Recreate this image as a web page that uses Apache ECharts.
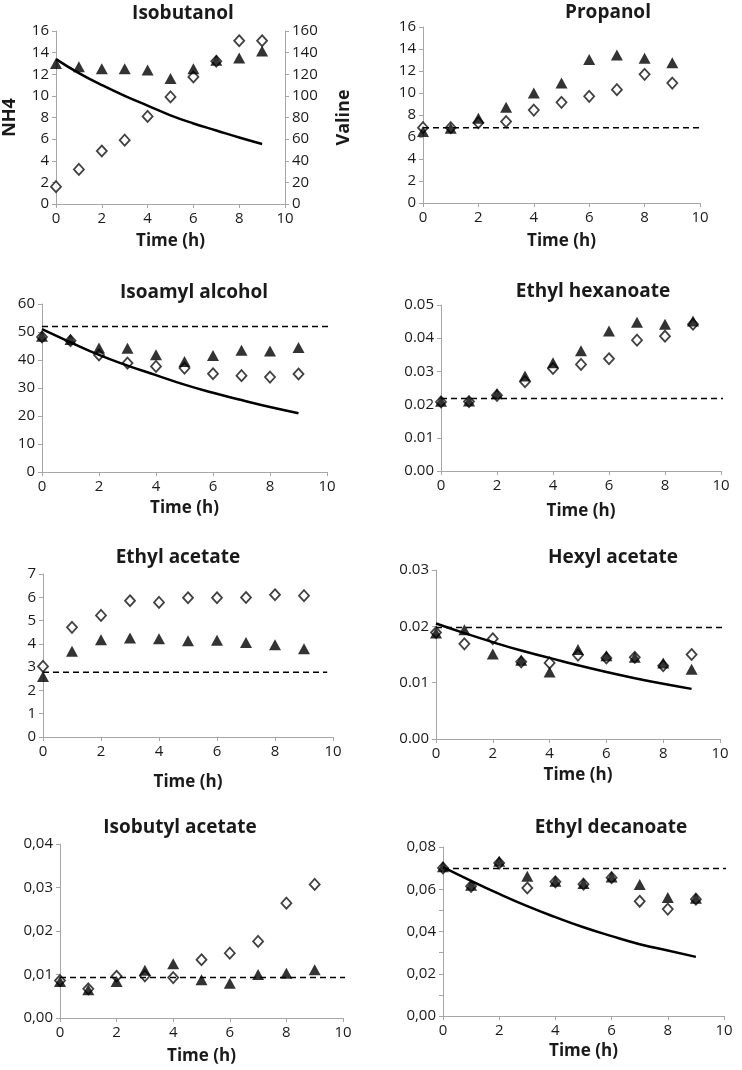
<!DOCTYPE html>
<html><head><meta charset="utf-8">
<script src="https://cdn.jsdelivr.net/npm/echarts@6/dist/echarts.min.js"></script>
<style>html,body{margin:0;padding:0;background:#fff}#c{width:742px;height:1070px}</style>
</head><body><div id="c"></div>
<script>
// ---------- data ----------
const hours = [0,1,2,3,4,5,6,7,8,9];
const xAxisName = 'Time (h)';
const panelTitles = ['Isobutanol','Propanol','Isoamyl alcohol','Ethyl hexanoate','Ethyl acetate','Hexyl acetate','Isobutyl acetate','Ethyl decanoate'];
const leftAxisName = 'NH4';
const rightAxisName = 'Valine';

const isobutanolTriangles = [13.0,12.7,12.5,12.5,12.4,11.6,12.5,13.3,13.5,14.15];
const isobutanolDiamonds  = [1.6,3.2,4.9,5.9,8.1,9.9,11.75,13.2,15.1,15.1];
const isobutanolModel     = [13.4,12.1,11.0,10.0,9.1,8.2,7.45,6.8,6.15,5.55];

const propanolTriangles = [6.5,6.8,7.7,8.7,10.0,10.9,13.05,13.45,13.15,12.75];
const propanolDiamonds  = [6.85,6.85,7.3,7.4,8.45,9.15,9.7,10.3,11.7,10.9];
const propanolBaseline  = 6.85;

const isoamylTriangles = [48.5,47.3,44.3,44.2,41.9,39.5,41.6,43.5,43.2,44.5];
const isoamylDiamonds  = [48.2,46.9,41.8,38.9,37.7,37.1,35.1,34.4,33.9,35.0];
const isoamylModel     = [51.0,46.3,41.8,38.0,34.6,31.2,28.3,25.7,23.2,21.0];
const isoamylBaseline  = 52.0;

const ethylHexTriangles = [0.0210,0.0211,0.0233,0.0286,0.0326,0.0362,0.0422,0.0448,0.0442,0.0452];
const ethylHexDiamonds  = [0.0208,0.0209,0.0228,0.0269,0.0309,0.0321,0.0338,0.0394,0.0406,0.0442];
const ethylHexBaseline  = 0.0218;

const ethylAcTriangles = [2.60,3.68,4.18,4.25,4.22,4.13,4.16,4.06,3.96,3.79];
const ethylAcDiamonds  = [3.03,4.71,5.22,5.85,5.78,5.98,5.98,5.99,6.11,6.07];
const ethylAcBaseline  = 2.78;

const hexylTriangles = [0.0188,0.0194,0.0151,0.0140,0.0119,0.0159,0.0148,0.0145,0.0135,0.0124];
const hexylDiamonds  = [0.0189,0.0169,0.0178,0.0137,0.0135,0.0149,0.0144,0.0145,0.0130,0.0150];
const hexylModel     = [0.0205,0.0188,0.0172,0.0157,0.0144,0.0131,0.0119,0.0108,0.0098,0.0089];
const hexylBaseline  = 0.0198;

const isobutylTriangles = [0.0084,0.0065,0.0084,0.0110,0.0125,0.0088,0.0080,0.0100,0.0103,0.0111];
const isobutylDiamonds  = [0.0086,0.0067,0.0096,0.0097,0.0093,0.0134,0.0149,0.0176,0.0264,0.0307];
const isobutylBaseline  = 0.0093;

const ethylDecTriangles = [0.0706,0.0619,0.0732,0.0661,0.0638,0.0627,0.0658,0.0622,0.0561,0.0557];
const ethylDecDiamonds  = [0.0701,0.0614,0.0724,0.0606,0.0635,0.0624,0.0655,0.0543,0.0506,0.0553];
const ethylDecModel     = [0.0705,0.0640,0.0578,0.0520,0.0468,0.0420,0.0378,0.0340,0.0310,0.0280];
const ethylDecBaseline  = 0.0698;

// ---------- layout / style ----------
const FONT = 'Open Sans';
const TXT = '#1a1a1a';
const AX = '#a6a6a6';

const panels = [
  {grid:[54,31,231,173],   title:[178,-1],  yMax:16,   yInt:2,    fmt:'int', tri:isobutanolTriangles, dia:isobutanolDiamonds, model:isobutanolModel, base:null, dashEnd:null, nameGap:29},
  {grid:[423,27,277,176],  title:[603,-2],  yMax:16,   yInt:2,    fmt:'int', tri:propanolTriangles, dia:propanolDiamonds, model:null, base:propanolBaseline, dashEnd:10.3, nameGap:30},
  {grid:[42,304,285,168],  title:[189,278], yMax:60,   yInt:10,   fmt:'int', tri:isoamylTriangles, dia:isoamylDiamonds, model:isoamylModel, base:isoamylBaseline, dashEnd:10.5, nameGap:28},
  {grid:[441,305,280,166], title:[588,277], yMax:0.05, yInt:0.01, fmt:'dot', tri:ethylHexTriangles, dia:ethylHexDiamonds, model:null, base:ethylHexBaseline, dashEnd:10.8, nameGap:32},
  {grid:[43,574,290,163],  title:[173,543], yMax:7,    yInt:1,    fmt:'int', tri:ethylAcTriangles, dia:ethylAcDiamonds, model:null, base:ethylAcBaseline, dashEnd:9.8, nameGap:37},
  {grid:[436,570,284,169], title:[608,543], yMax:0.03, yInt:0.01, fmt:'dot', tri:hexylTriangles, dia:hexylDiamonds, model:hexylModel, base:hexylBaseline, dashEnd:10.8, nameGap:28},
  {grid:[60,844,283,174],  title:[175,813], yMax:0.04, yInt:0.01, fmt:'comma', tri:isobutylTriangles, dia:isobutylDiamonds, model:null, base:isobutylBaseline, dashEnd:10.6, nameGap:30},
  {grid:[443,847,281,169], title:[606,813], yMax:0.08, yInt:0.02, fmt:'comma', tri:ethylDecTriangles, dia:ethylDecDiamonds, model:ethylDecModel, base:ethylDecBaseline, dashEnd:10.6, nameGap:27, minor:true}
];

function fmtFn(kind){
  if (kind === 'int') return v => String(Math.round(v));
  if (kind === 'dot') return v => v.toFixed(2);
  return v => v.toFixed(2).replace('.', ',');
}

const option = {
  animation:false,
  backgroundColor:'#fff',
  title:[], grid:[], xAxis:[], yAxis:[], series:[]
};

const axisCommon = {
  axisLine:{show:true, onZero:false, lineStyle:{color:AX, width:1}},
  axisTick:{show:true, inside:false, length:4, lineStyle:{color:AX}},
  splitLine:{show:false},
  axisLabel:{color:TXT, fontFamily:FONT, fontSize:15}
};

panels.forEach((p, i) => {
  option.title.push({
    text: panelTitles[i], left: p.title[0], top: p.title[1], textAlign:'center',
    textStyle:{fontFamily:FONT, fontWeight:'bold', fontSize:19, color:TXT}
  });
  option.grid.push({left:p.grid[0], top:p.grid[1], width:p.grid[2], height:p.grid[3], containLabel:false});
  option.xAxis.push(Object.assign({}, axisCommon, {
    type:'value', gridIndex:i, min:0, max:10, interval:2,
    name:xAxisName, nameLocation:'middle', nameGap:p.nameGap,
    nameTextStyle:{fontFamily:FONT, fontWeight:'bold', fontSize:17, color:TXT},
    axisLabel:Object.assign({}, axisCommon.axisLabel, {margin:7})
  }));
  const yAx = Object.assign({}, axisCommon, {
    type:'value', gridIndex:i, min:0, max:p.yMax, interval:p.yInt,
    axisLabel:Object.assign({}, axisCommon.axisLabel, {margin:7, formatter:fmtFn(p.fmt)})
  });
  if (p.minor) yAx.minorTick = {show:true, splitNumber:2, length:4, lineStyle:{color:AX}};
  if (i === 0) {
    yAx.name = leftAxisName; yAx.nameLocation='middle'; yAx.nameRotate=90; yAx.nameGap=37;
    yAx.nameTextStyle = {fontFamily:FONT, fontWeight:'bold', fontSize:18, color:TXT};
  }
  option.yAxis.push(yAx);

  const yIdx = option.yAxis.length - 1;
  if (i === 0) {
    option.yAxis.push(Object.assign({}, axisCommon, {
      type:'value', gridIndex:0, position:'right', min:0, max:160, interval:20,
      name:rightAxisName, nameLocation:'middle', nameRotate:90, nameGap:50,
      nameTextStyle:{fontFamily:FONT, fontWeight:'bold', fontSize:18, color:TXT},
      axisLabel:Object.assign({}, axisCommon.axisLabel, {margin:7})
    }));
  }

  option.series.push({
    type:'scatter', xAxisIndex:i, yAxisIndex:yIdx, symbol:'diamond', symbolSize:[10,11],
    itemStyle:{color:'#fff', borderColor:'#111', borderWidth:1.8},
    data: hours.map((h, k) => [h, p.dia[k]]), z:2
  });
  option.series.push({
    type:'scatter', xAxisIndex:i, yAxisIndex:yIdx, symbol:'triangle', symbolSize:[12,11],
    itemStyle:{color:'#000'},
    data: hours.map((h, k) => [h, p.tri[k]]), z:3
  });
  if (p.model) {
    option.series.push({
      type:'line', xAxisIndex:i, yAxisIndex:yIdx, smooth:true, showSymbol:false,
      lineStyle:{color:'#000', width:2.5}, data: hours.map((h, k) => [h, p.model[k]]), z:4
    });
  }
  if (p.base !== null) {
    option.series.push({
      type:'line', xAxisIndex:i, yAxisIndex:yIdx, showSymbol:false, clip:false,
      lineStyle:{color:'#000', width:1.5, type:[6,4]},
      data: [[0, p.base], [p.dashEnd, p.base]], z:5
    });
  }
});

const chart = echarts.init(document.getElementById('c'), null, {renderer:'canvas'});
chart.setOption(option);
</script>
</body></html>
